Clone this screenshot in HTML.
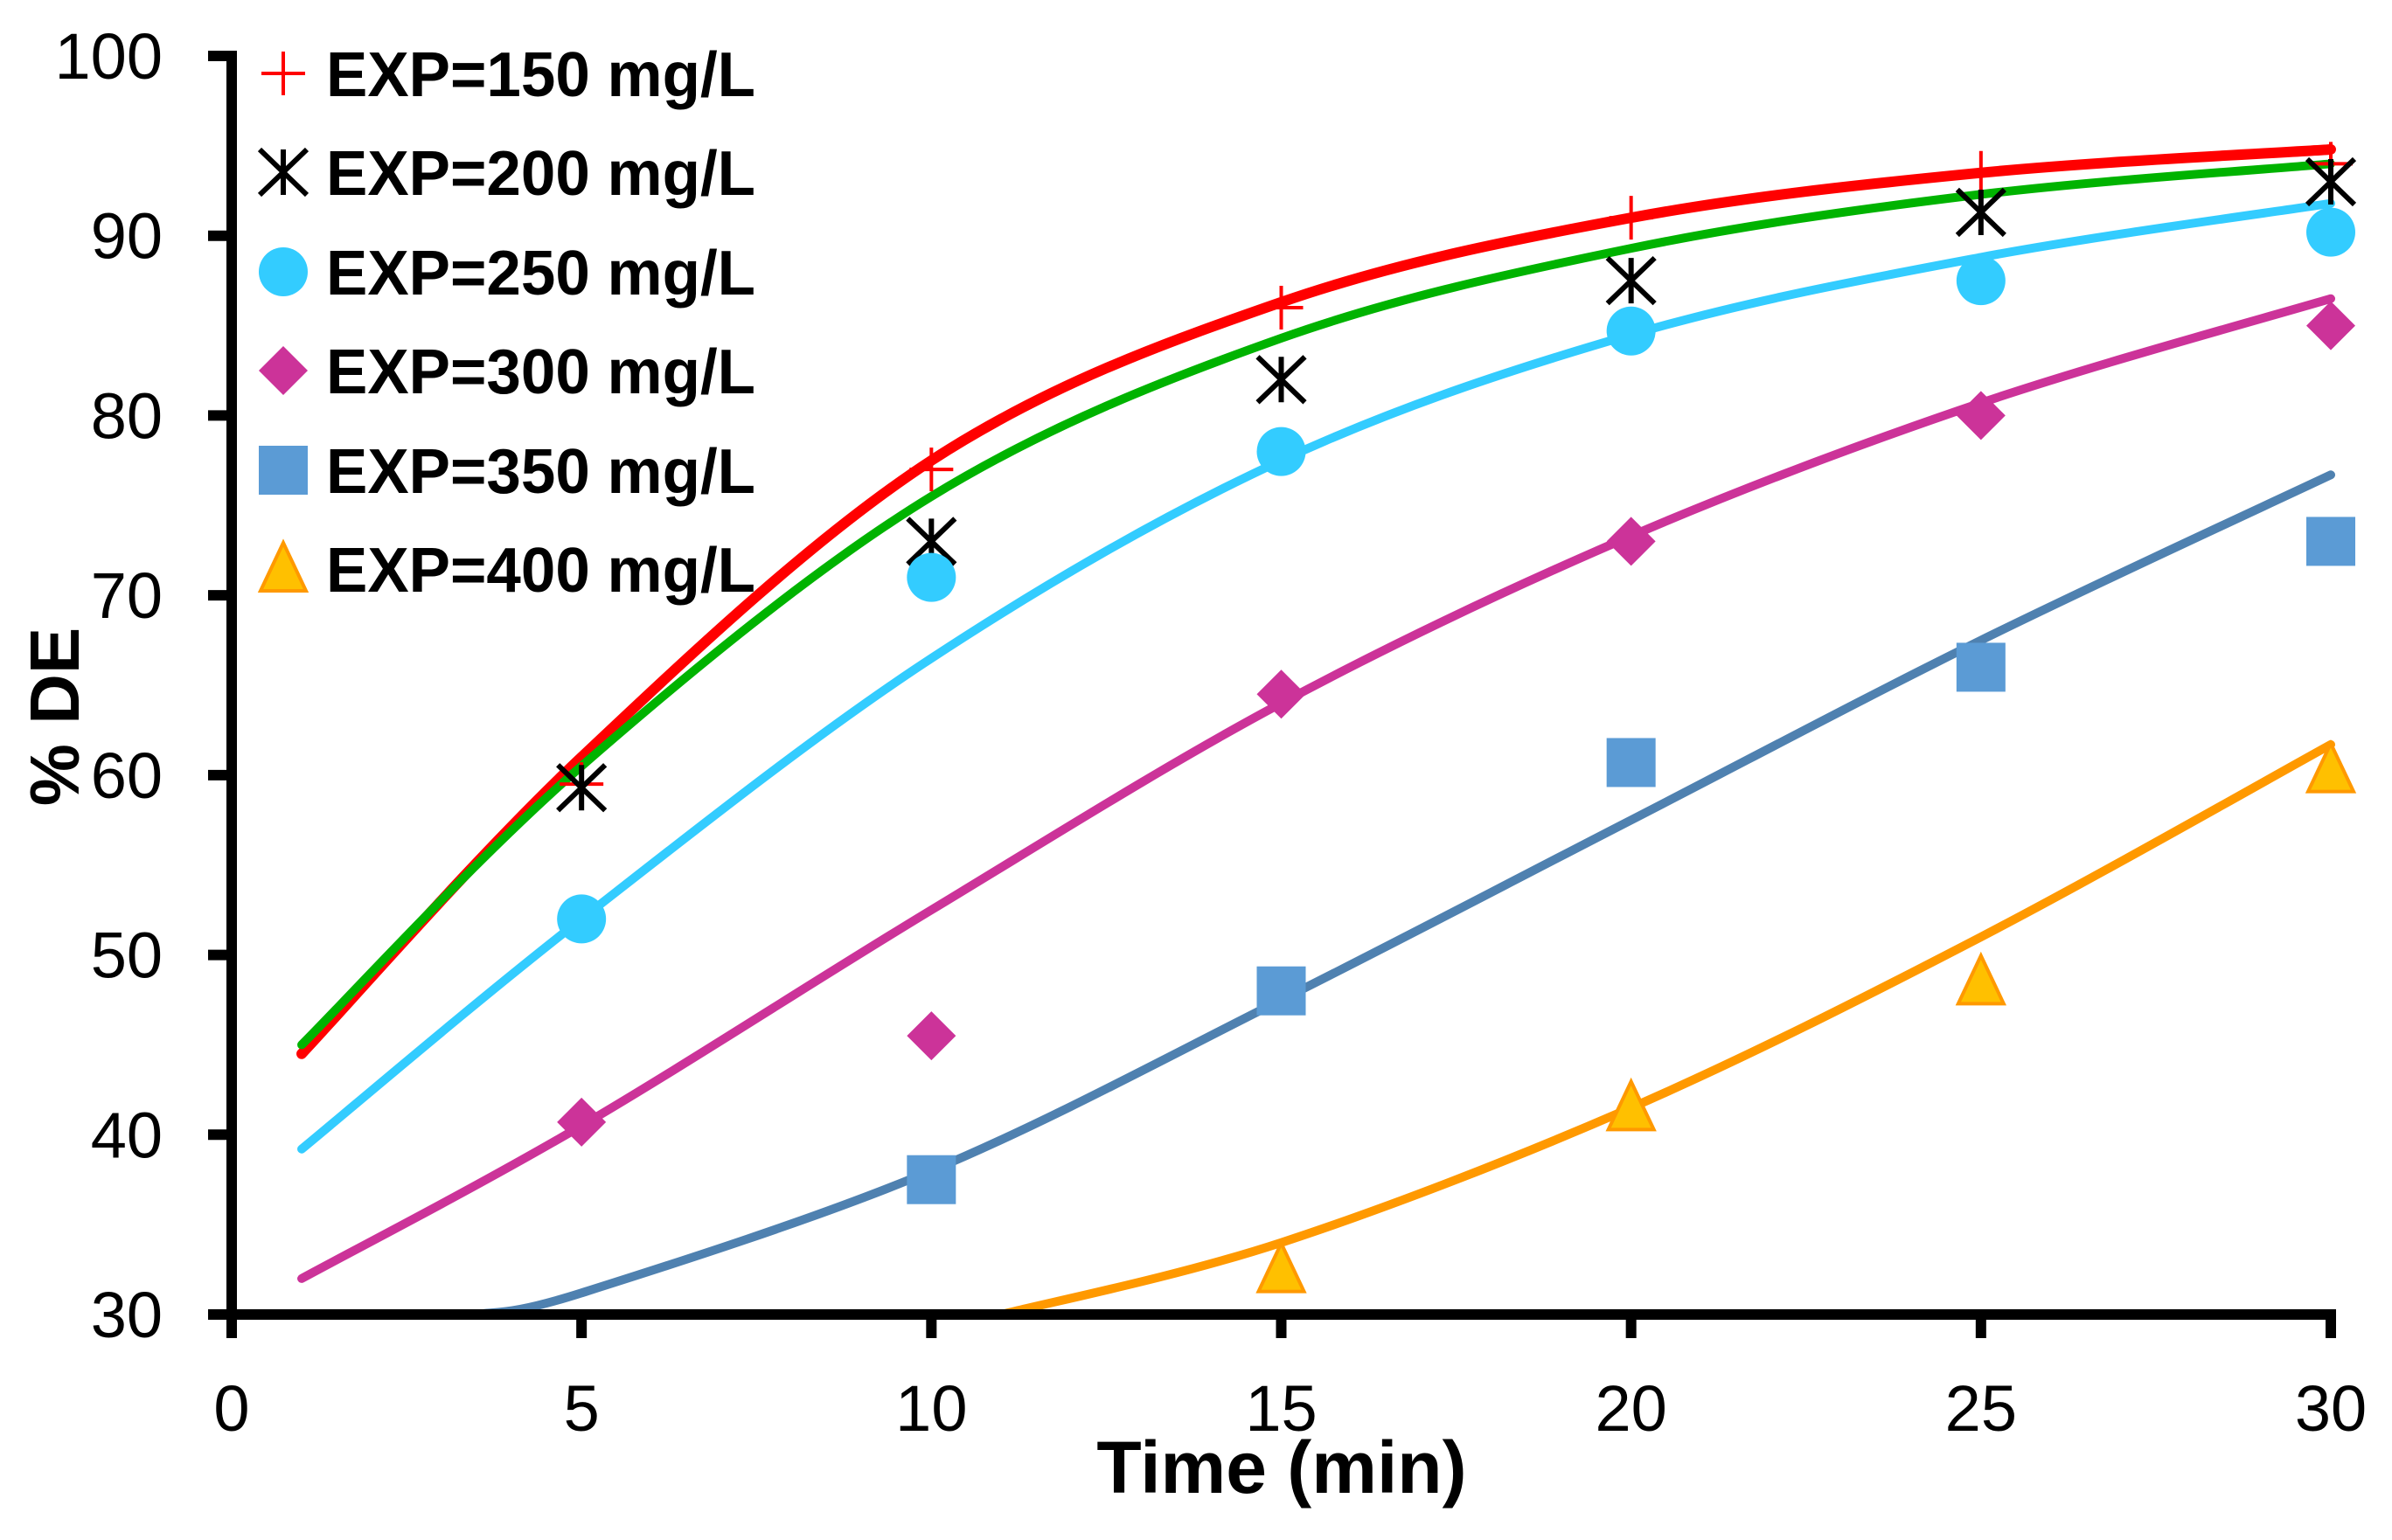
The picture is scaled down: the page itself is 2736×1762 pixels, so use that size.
<!DOCTYPE html>
<html><head><meta charset="utf-8"><style>html,body{margin:0;padding:0;background:#fff}svg{display:block}</style></head>
<body>
<svg id="chart" xmlns="http://www.w3.org/2000/svg" width="2736" height="1762" viewBox="0 0 2736 1762" font-family="'Liberation Sans', sans-serif">
<rect width="2736" height="1762" fill="#fff"/>
<g id="curves"></g>
<g id="points"></g>
<g id="axes"></g>
<g id="legend"></g>
<text x="1466" y="1708" font-size="84" font-weight="bold" text-anchor="middle">Time (min)</text>
<text transform="translate(90,820) rotate(-90)" font-size="80" font-weight="bold" text-anchor="middle">% DE</text>
</svg>
<script>
const xTicks = [0,5,10,15,20,25,30];
const yTicks = [30,40,50,60,70,80,90,100];
const seriesNames = ["EXP=150 mg/L","EXP=200 mg/L","EXP=250 mg/L","EXP=300 mg/L","EXP=350 mg/L","EXP=400 mg/L"];
const expTimes = [5,10,15,20,25,30];
const exp150 = [59.5,77,86,91,93.5,94];
const exp200 = [59.3,73,82,87.5,91.3,93];
const exp250 = [52,71,78,84.7,87.5,90.2];
const exp300 = [40.7,45.5,64.5,73,80,85];
const exp350T = [10,15,20,25,30];
const exp350 = [37.5,48,60.7,66,73];
const exp400T = [15,20,25,30];
const exp400 = [32.5,41.5,48.5,60.3];
const fitT = [1,5,10,15,20,25,30];
const fit150 = [44.5,61,77.5,86.3,91,93.5,94.8];
const fit200 = [45,60.5,75.5,84.3,89.3,92.3,94];
const fit250 = [39.2,52,66.5,77.5,84.5,88.8,91.8];
const fit300 = [32,40.5,52.5,64,73.3,80.7,86.5];
const fit350T = [3.5,5,10,15,20,25,30];
const fit350 = [30,31.2,38,47.5,57.5,67.5,76.7];
const fit400T = [11,15,20,25,30];
const fit400 = [30,34,41.5,51,61.7];

const NS="http://www.w3.org/2000/svg";
const X0=265,X1=2666,Y0=1504,Y1=64;
const sx=t=>X0+(t-0)/(30-0)*(X1-X0);
const sy=v=>Y0-(v-30)/(100-30)*(Y0-Y1);
function mk(tag,attrs,parent){const e=document.createElementNS(NS,tag);for(const k in attrs)e.setAttribute(k,attrs[k]);parent.appendChild(e);return e;}

function smooth(ts,vs){
  const p=ts.map((t,i)=>[sx(t),sy(vs[i])]);
  let d=`M${p[0][0]},${p[0][1]}`;
  for(let i=0;i<p.length-1;i++){
    const a=p[i-1]||p[i],b=p[i],c=p[i+1],e=p[i+2]||c;
    const c1=[b[0]+(c[0]-a[0])/6,b[1]+(c[1]-a[1])/6];
    const c2=[c[0]-(e[0]-b[0])/6,c[1]-(e[1]-b[1])/6];
    d+=` C${c1[0]},${c1[1]} ${c2[0]},${c2[1]} ${c[0]},${c[1]}`;
  }
  return d;
}
const curves=document.getElementById('curves');
const fits=[[fit400T,fit400,"#FF9900",10,"fit-curve-400"],[fit350T,fit350,"#4F81B0",10,"fit-curve-350"],[fitT,fit300,"#CC3399",10,"fit-curve-300"],[fitT,fit250,"#33CCFF",10,"fit-curve-250"],[fitT,fit150,"#FF0000",12,"fit-curve-150"],[fitT,fit200,"#00B300",10,"fit-curve-200"]];
fits.forEach(f=>{
  const el=mk('path',{d:smooth(f[0],f[1]),fill:'none',stroke:f[2],'stroke-width':f[3],'stroke-linecap':'round'},curves);
  
  
});

function marker(type,cx,cy,parent){
  const g=mk('g',{},parent);
  if(type==='plus'){mk('path',{d:`M${cx-25},${cy}H${cx+25}M${cx},${cy-25}V${cy+25}`,stroke:'#FF0000','stroke-width':4},g);}
  else if(type==='star'){mk('path',{d:`M${cx-27},${cy-26}L${cx+27},${cy+26}M${cx-27},${cy+26}L${cx+27},${cy-26}M${cx},${cy-26}V${cy+26}`,stroke:'#000','stroke-width':6},g);}
  else if(type==='circle'){mk('circle',{cx:cx,cy:cy,r:28,fill:'#33CCFF'},g);}
  else if(type==='diamond'){mk('path',{d:`M${cx},${cy-28}L${cx+28},${cy}L${cx},${cy+28}L${cx-28},${cy}Z`,fill:'#CC3399'},g);}
  else if(type==='square'){mk('rect',{x:cx-28,y:cy-28,width:56,height:56,fill:'#5B9BD5'},g);}
  else if(type==='tri'){mk('path',{d:`M${cx},${cy-30}L${cx+26},${cy+25}L${cx-26},${cy+25}Z`,fill:'#FFC000',stroke:'#FF9900','stroke-width':4},g);}
  return g;
}
const points=document.getElementById('points');
const expSets=[[expTimes,exp150,'plus','150'],[expTimes,exp200,'star','200'],[expTimes,exp250,'circle','250'],[expTimes,exp300,'diamond','300'],[exp350T,exp350,'square','350'],[exp400T,exp400,'tri','400']];
expSets.forEach(s=>{
  s[0].forEach((t,i)=>{
    const m=marker(s[2],sx(t),sy(s[1][i]),points);
    
    
  });
});

const axes=document.getElementById('axes');
const ya=mk('line',{x1:X0,y1:Y1-6,x2:X0,y2:Y0+6,stroke:'#000','stroke-width':12},axes);


const xa=mk('line',{x1:X0-6,y1:Y0,x2:X1+6,y2:Y0,stroke:'#000','stroke-width':12},axes);


yTicks.forEach(v=>{
  const y=sy(v);
  const tk=mk('line',{x1:X0-27,y1:y,x2:X0,y2:y,stroke:'#000','stroke-width':12},axes);
  
  
  const tx=mk('text',{x:186,y:y+26,'font-size':74,'text-anchor':'end'},axes);
  tx.textContent=v;
  
  
});
xTicks.forEach(t=>{
  const x=sx(t);
  const tk=mk('line',{x1:x,y1:Y0,x2:x,y2:Y0+27,stroke:'#000','stroke-width':12},axes);
  
  
  const tx=mk('text',{x:x,y:1637,'font-size':74,'text-anchor':'middle'},axes);
  tx.textContent=t;
  
  
});

const legend=document.getElementById('legend');
const legendTypes=['plus','star','circle','diamond','square','tri'];
const legendY=[84,197,311,424,538,651];
seriesNames.forEach((n,i)=>{
  const g=mk('g',{},legend);
  
  
  marker(legendTypes[i],324,legendY[i],g);
  const tx=mk('text',{x:373,y:legendY[i]+26,'font-size':72,'font-weight':'bold',textLength:491,lengthAdjust:'spacingAndGlyphs'},g);
  tx.textContent=n;
});
</script>
</body></html>
